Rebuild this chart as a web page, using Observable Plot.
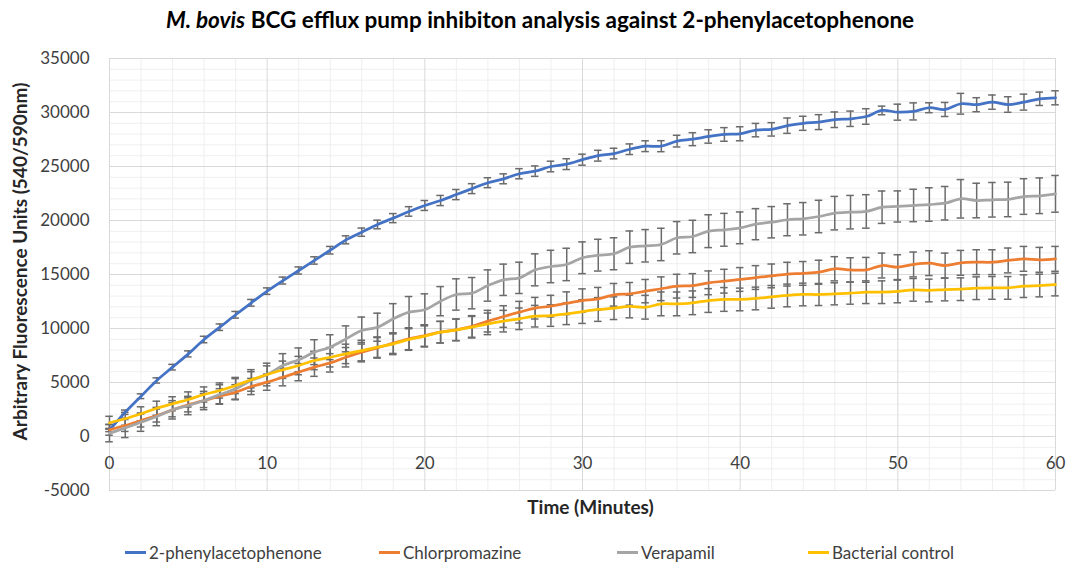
<!DOCTYPE html>
<html><head><meta charset="utf-8">
<script src="https://cdn.jsdelivr.net/npm/d3@7"></script>
<script src="https://cdn.jsdelivr.net/npm/@observablehq/plot@0.6"></script>
<style>
body{margin:0;background:#fff;font-family:Lato,"Open Sans",sans-serif;}
#wrap{width:1068px;height:569px;position:relative;overflow:hidden;background:#fff}
#title{height:40px;line-height:40px;text-align:center;font-weight:bold;font-size:22.5px;color:#000;padding-left:12px;box-sizing:border-box}
#chart svg{display:block}
#legend{position:relative;height:34px;font-size:17px;color:#404040}
.item{position:absolute;top:0;height:34px;display:flex;align-items:center;white-space:nowrap}
.sw{width:21px;height:3px;margin-right:3px}
</style></head><body>
<div id="wrap">
<div id="title"><i>M. bovis</i> BCG efflux pump inhibiton analysis against 2-phenylacetophenone</div>
<div id="chart"></div>
<div id="legend"></div>
</div>
<script>
const seriesNames = ["2-phenylacetophenone", "Chlorpromazine", "Verapamil", "Bacterial control"];
const seriesColors = ["#4472C4", "#ED7D31", "#A5A5A5", "#FFC000"];
const minutes = [0,1,2,3,4,5,6,7,8,9,10,11,12,13,14,15,16,17,18,19,20,21,22,23,24,25,26,27,28,29,30,31,32,33,34,35,36,37,38,39,40,41,42,43,44,45,46,47,48,49,50,51,52,53,54,55,56,57,58,59,60];

const phenValues = [600,2250,3730,5190,6420,7650,8980,10120,11270,12380,13460,14440,15370,16300,17250,18210,18920,19630,20220,20840,21390,21850,22400,22950,23500,23860,24330,24570,25000,25220,25630,26000,26200,26600,26880,26880,27350,27530,27780,27970,28030,28370,28440,28780,29000,29110,29330,29420,29630,30190,30030,30100,30440,30280,30810,30720,30960,30740,30960,31270,31360];
const phenErr = [150,200,220,240,260,280,300,300,310,310,300,320,330,340,350,370,380,400,420,440,460,470,470,460,460,460,470,480,490,500,510,500,490,490,500,510,540,600,620,630,650,620,620,710,650,690,720,710,720,400,740,790,460,650,960,650,660,720,740,620,650];

const chlorValues = [620,1020,1480,1940,2470,2930,3330,3730,4100,4630,5030,5490,5960,6420,6820,7340,7810,8210,8640,9040,9350,9660,9880,10190,10680,11110,11510,11880,12070,12340,12590,12750,13120,13210,13460,13680,13920,13980,14230,14380,14540,14720,14870,15030,15100,15210,15530,15430,15430,15830,15680,15930,16050,15830,16080,16140,16140,16300,16450,16360,16450];
const chlorErr = [500,550,600,600,650,650,650,700,700,750,750,800,800,850,850,900,900,950,950,1000,1000,1000,1000,1000,1000,1000,1000,1000,1000,1050,1080,1050,1050,1050,1080,1100,1100,1100,1100,1100,1100,1100,1100,1100,1100,1110,1120,1120,1150,1150,1150,1150,1150,1150,1150,1150,1150,1150,1150,1150,1150];

const veraValues = [310,800,1330,1850,2470,2870,3330,3890,4410,5190,5740,6570,7100,7810,8270,9040,9810,10120,10900,11510,11730,12530,13150,13270,13980,14510,14690,15430,15740,15930,16550,16790,16920,17530,17660,17780,18400,18520,19010,19140,19320,19660,19840,20070,20160,20370,20680,20770,20840,21230,21300,21390,21480,21600,22010,21850,21920,21950,22220,22290,22470];
const veraErr = [800,900,850,850,850,850,850,900,950,1000,1050,1100,1100,1150,1150,1200,1250,1300,1400,1450,1480,1350,1450,1450,1450,1450,1450,1480,1500,1500,1470,1470,1480,1500,1500,1500,1500,1500,1520,1520,1470,1440,1450,1480,1500,1500,1550,1550,1550,1500,1440,1500,1550,1550,1780,1600,1600,1600,1650,1650,1700];

const controlValues = [1270,1640,2100,2620,3030,3430,3890,4260,4720,5250,5740,6180,6570,7040,7340,7650,7960,8270,8580,8980,9290,9660,9870,10120,10430,10680,10900,11140,11200,11360,11570,11760,11880,12040,11970,12280,12280,12380,12590,12690,12690,12780,12930,13060,13150,13150,13210,13270,13360,13360,13430,13580,13520,13610,13640,13730,13760,13760,13920,13980,14070];
const controlErr = [600,600,650,650,650,700,700,700,750,750,800,800,850,850,900,900,950,950,1000,1000,1000,1000,1000,1000,1000,1000,1000,1000,1000,1000,1100,1100,1050,1050,1100,1100,1100,1100,1100,1100,1050,1050,1050,1050,1050,1020,1020,1020,1050,1050,1050,1050,1050,1050,1050,1050,1050,1050,1050,1050,1050];

const xTickLabels = [0,10,20,30,40,50,60];
const yTickLabels = [-5000,0,5000,10000,15000,20000,25000,30000,35000];
const xTitle = "Time (Minutes)";
const yTitle = "Arbitrary Fluorescence Units (540/590nm)";

const valueSets = [phenValues, chlorValues, veraValues, controlValues];
const errSets = [phenErr, chlorErr, veraErr, controlErr];
const rows = [];
seriesNames.forEach((s, i) => {
  minutes.forEach((t, j) => {
    rows.push({series: s, t, v: valueSets[i][j], e: errSets[i][j]});
  });
});

const minorY = d3.range(-5000, 35001, 1000).filter(v => v % 5000 !== 0);
const minorX = d3.range(0, 61, 2).filter(v => v % 10 !== 0);
const capHalf = 0.24;

const chart = Plot.plot({
  width: 1068,
  height: 495,
  marginLeft: 109,
  marginRight: 13,
  marginTop: 18,
  marginBottom: 45,
  style: {fontFamily: "Lato, 'Open Sans', sans-serif", fontSize: "17px", color: "#404040", background: "#fff"},
  x: {domain: [0, 60], axis: null},
  y: {domain: [-5000, 35000], axis: null},
  color: {domain: seriesNames, range: seriesColors},
  marks: [
    Plot.ruleY(minorY, {stroke: "#efefef", strokeWidth: 1}),
    Plot.ruleX(minorX, {stroke: "#efefef", strokeWidth: 1}),
    Plot.ruleY(yTickLabels, {stroke: "#d9d9d9", strokeWidth: 1}),
    Plot.ruleX(xTickLabels, {stroke: "#d9d9d9", strokeWidth: 1}),
    Plot.ruleX(rows, {x: "t", y1: d => d.v - d.e, y2: d => d.v + d.e, stroke: "#6b6b6b", strokeWidth: 1.5}),
    Plot.ruleY(rows, {y: d => d.v - d.e, x1: d => d.t - capHalf, x2: d => d.t + capHalf, stroke: "#6b6b6b", strokeWidth: 1.5}),
    Plot.ruleY(rows, {y: d => d.v + d.e, x1: d => d.t - capHalf, x2: d => d.t + capHalf, stroke: "#6b6b6b", strokeWidth: 1.5}),
    Plot.line(rows, {x: "t", y: "v", stroke: "series", z: "series", strokeWidth: 2.75, curve: "catmull-rom"}),
    Plot.axisY(yTickLabels, {tickSize: 0, tickPadding: 20, tickFormat: d => String(d), label: null, fill: "#404040"}),
    Plot.text(xTickLabels, {x: d => d, y: () => 0, dy: 27, text: d => String(d), fill: "#404040"}),
    Plot.text([xTitle], {frameAnchor: "bottom", lineAnchor: "middle", textAnchor: "middle", dy: 17, dx: 8, fontWeight: "bold", fill: "#262626", fontSize: 19}),
    Plot.text([yTitle], {frameAnchor: "left", lineAnchor: "middle", textAnchor: "middle", rotate: -90, dx: -89, dy: -13, fontWeight: "bold", fill: "#262626", fontSize: 19})
  ]
});
document.getElementById("chart").appendChild(chart);

const legendX = [125, 379, 617, 808];
const legend = document.getElementById("legend");
seriesNames.forEach((s, i) => {
  const it = document.createElement("div");
  it.className = "item";
  it.style.left = legendX[i] + "px";
  const sw = document.createElement("div");
  sw.className = "sw";
  sw.style.background = seriesColors[i];
  const tx = document.createElement("span");
  tx.textContent = s;
  it.appendChild(sw); it.appendChild(tx);
  legend.appendChild(it);
});
</script>
</body></html>
